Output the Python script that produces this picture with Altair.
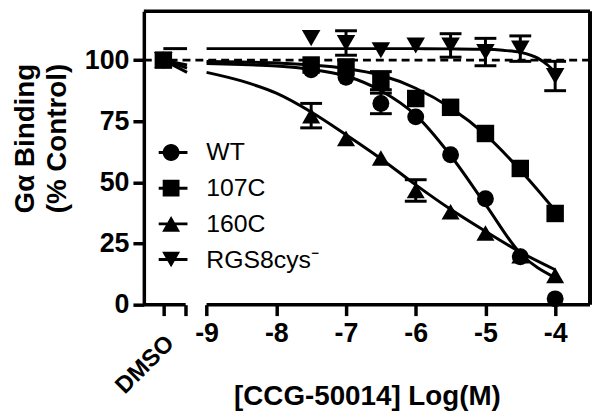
import altair as alt
import pandas as pd

# ---------------- data ----------------
series = ["WT", "107C", "160C", "RGS8cys\u207b"]
dmso_x = -9.62
log_conc = [-7.5, -7.0, -6.5, -6.0, -5.5, -5.0, -4.5, -4.0]

wt_vals = [96.0, 93.0, 82.3, 76.8, 61.3, 43.3, 19.6, 2.4]
c107_vals = [98.0, 97.2, 91.6, 84.3, 80.7, 70.0, 55.7, 37.3]
c160_vals = [77.3, 68.0, 60.0, 46.7, 38.0, 29.3, 20.0, 12.0]
rgs_vals = [109.0, 107.0, 104.0, 106.0, 106.0, 103.3, 104.7, 93.5]
dmso_vals = [100.0, 100.0, 100.0, 100.0]

wt_err = [0, 0, 4.2, 0, 0, 0, 0, 0]
c107_err = [0, 0, 3.7, 0, 0, 0, 0, 0]
c160_err = [5.0, 0, 0, 4.4, 0, 0, 0, 0]
rgs_err = [0, 5.0, 0, 0, 4.8, 5.6, 5.2, 6.0]

fit_x = [-9.0, -8.5, -8.0, -7.5, -7.0, -6.5, -6.0, -5.5, -5.0, -4.5, -4.0]
wt_fit = [98.6, 98.2, 97.6, 96.2, 93.5, 87.5, 77.5, 61.0, 41.0, 21.0, 11.0]
c107_fit = [99.4, 99.2, 98.8, 98.0, 96.6, 93.8, 88.5, 80.5, 69.5, 55.0, 38.5]
c160_fit = [95.0, 91.5, 86.5, 78.8, 69.5, 59.7, 49.0, 39.0, 30.0, 21.5, 14.3]
rgs_fit_x = [-9.0, -8.0, -7.0, -6.0, -5.5, -5.0, -4.75, -4.5, -4.25, -4.1, -4.0]
rgs_fit = [104.7, 104.7, 104.7, 104.7, 104.6, 104.4, 104.0, 103.2, 100.8, 97.8, 95.0]

stub_x = [-9.62, -9.28]
wt_stub = [100.0, 96.7]
c107_stub = [100.0, 98.0]
c160_stub = [100.0, 95.0]
rgs_stub = [104.7, 104.7]

x_ticks = [-9, -8, -7, -6, -5, -4]
y_ticks = [0, 25, 50, 75, 100]
x_domain = [-9.9, -3.5]
y_domain = [0, 120]
axis_break = [-9.3, -9.0]
control_level = 100

# ---------------- tables ----------------
vals = [wt_vals, c107_vals, c160_vals, rgs_vals]
errs = [wt_err, c107_err, c160_err, rgs_err]
pt_rows = []
for i, s in enumerate(series):
    pt_rows.append({"series": s, "x": dmso_x, "y": dmso_vals[i], "err": 0, "ord": i})
    for xv, yv, ev in zip(log_conc, vals[i], errs[i]):
        pt_rows.append({"series": s, "x": xv, "y": yv, "err": ev, "ord": i})
order_draw = [3, 2, 0, 1]
pts = pd.DataFrame(pt_rows)
pts["o"] = pts["ord"].map({k: n for n, k in enumerate(order_draw)})
pts = pts.sort_values("o")

fits = [(fit_x, wt_fit), (fit_x, c107_fit), (fit_x, c160_fit), (rgs_fit_x, rgs_fit)]
stubs = [wt_stub, c107_stub, c160_stub, rgs_stub]
cv_rows = []
for i, s in enumerate(series):
    for xv, yv in zip(*fits[i]):
        cv_rows.append({"key": s + "_fit", "x": xv, "y": yv})
    for xv, yv in zip(stub_x, stubs[i]):
        cv_rows.append({"key": s + "_stub", "x": xv, "y": yv})
curves = pd.DataFrame(cv_rows)

FONT = "Liberation Sans"
xscale = alt.Scale(domain=x_domain, nice=False, zero=False)
yscale = alt.Scale(domain=y_domain, nice=False, zero=False)

xaxis = alt.Axis(
    values=[dmso_x, axis_break[0]] + x_ticks,
    labelExpr="datum.value < -9.1 ? '' : '-' + abs(datum.value)",
    domain=False, grid=False, ticks=True, tickSize=11, tickWidth=3.5, tickColor="black",
    labelFont=FONT, labelFontSize=27, labelFontWeight="bold", labelColor="black",
    labelPadding=5, labelOverlap=False, labelFlush=False,
    title="[CCG-50014] Log(M)", titleFont=FONT, titleFontSize=28, titleFontWeight="bold",
    titleColor="black", titlePadding=37,
)
yaxis = alt.Axis(
    values=y_ticks, domain=True, domainWidth=3.5, domainColor="black", grid=False,
    tickSize=11, tickWidth=3.5, tickColor="black",
    labelFont=FONT, labelFontSize=27, labelFontWeight="bold", labelColor="black",
    labelPadding=4, labelFlush=False,
    title=["G\u03b1 Binding", "(% Control)"], titleFont=FONT, titleFontSize=28,
    titleFontWeight="bold", titleColor="black", titleLineHeight=32, titlePadding=13,
    titleY=128,
)

def X(f="x"):
    return alt.X(f, type="quantitative", scale=xscale, axis=xaxis)

def Y(f="y"):
    return alt.Y(f, type="quantitative", scale=yscale, axis=yaxis)

ref_line = alt.Chart(pd.DataFrame({"y": [control_level]})).mark_rule(
    color="black", strokeWidth=3, strokeDash=[8, 5]).encode(y=Y())

frame_top = alt.Chart(pd.DataFrame({"y": [y_domain[1]]})).mark_rule(
    color="black", strokeWidth=3.5).encode(y=Y())
frame_right = alt.Chart(pd.DataFrame({"x": [x_domain[1]]})).mark_rule(
    color="black", strokeWidth=4).encode(x=X())
bottom = alt.Chart(pd.DataFrame({"x": [x_domain[0], axis_break[1]],
                                 "x2": [axis_break[0], x_domain[1]],
                                 "y": [0, 0]})).mark_rule(
    color="black", strokeWidth=3.5).encode(x=X(), x2="x2", y=Y())

lines = alt.Chart(curves).mark_line(color="black", strokeWidth=3, interpolate="monotone").encode(
    x=X(), y=Y(), detail="key:N")

eb = alt.Chart(pts).transform_filter("datum.err > 0").transform_calculate(
    lo="datum.y - datum.err", hi="datum.y + datum.err")
err_rules = eb.mark_rule(color="black", strokeWidth=3).encode(x=X(), y=Y("lo"), y2="hi")
caps = eb.transform_fold(["lo", "hi"], as_=["end", "v"]).mark_point(
    shape="M-1,0L1,0", size=484, filled=False, color="black", strokeWidth=3, opacity=1
).encode(x=X(), y=Y("v"))

shapes = ["circle", "square", "triangle-up", "triangle-down"]
sizes = [290, 350, 400, 430]
points = alt.Chart(pts).mark_point(filled=True, color="black", opacity=1).encode(
    x=X(), y=Y(),
    shape=alt.Shape("series:N", scale=alt.Scale(domain=series, range=shapes), legend=None),
    size=alt.Size("series:N", scale=alt.Scale(domain=series, range=sizes), legend=None),
    order=alt.Order("o:Q"),
)

# legend glyphs: a filled bar (the line) plus the filled marker, all clockwise
bar = "M-1.79,-0.163L1.79,-0.163L1.79,0.163L-1.79,0.163Z"
legend_paths = [
    bar + "M0.92,0A0.92,0.92,0,1,1,-0.92,0A0.92,0.92,0,1,1,0.92,0Z",
    bar + "M-0.92,-0.92L0.92,-0.92L0.92,0.92L-0.92,0.92Z",
    bar + "M0,-0.85L0.98,0.85L-0.98,0.85Z",
    bar + "M-0.98,-0.85L0.98,-0.85L0,0.85Z",
]
legend_layer = alt.Chart(pts).transform_filter("false").mark_point(
    filled=True, color="black", opacity=1, size=340).encode(
    x=X(), y=Y(),
    shape=alt.Shape("series:N", scale=alt.Scale(domain=series, range=legend_paths),
                    legend=alt.Legend(
                        title=None, orient="none", legendX=15, legendY=130,
                        padding=0, rowPadding=10, clipHeight=25, labelOffset=23,
                        labelFont=FONT, labelFontSize=25, labelFontWeight="normal",
                        labelColor="black", symbolSize=340, symbolFillColor="black",
                        symbolStrokeWidth=0, symbolOpacity=1,
                    )),
)

dmso_text = alt.Chart(pd.DataFrame({"x": [dmso_x], "y": [0], "t": ["DMSO"]})).mark_text(
    angle=315, align="right", baseline="middle", dx=-20, dy=30,
    font=FONT, fontSize=24, fontWeight="bold", color="black").encode(
    x=X(), y=Y(), text="t:N")

chart = alt.layer(
    ref_line, frame_top, frame_right, bottom, lines, err_rules, caps, points,
    legend_layer, dmso_text,
).resolve_scale(shape="independent", size="independent").properties(
    width=450, height=296,
    padding={"left": 137, "top": 1.5, "right": 2, "bottom": 106.5},
    autosize=alt.AutoSizeParams(type="none"),
    background="white",
).configure_view(stroke=None)

chart.save("out.html", embed_options={"renderer": "svg", "actions": False})
